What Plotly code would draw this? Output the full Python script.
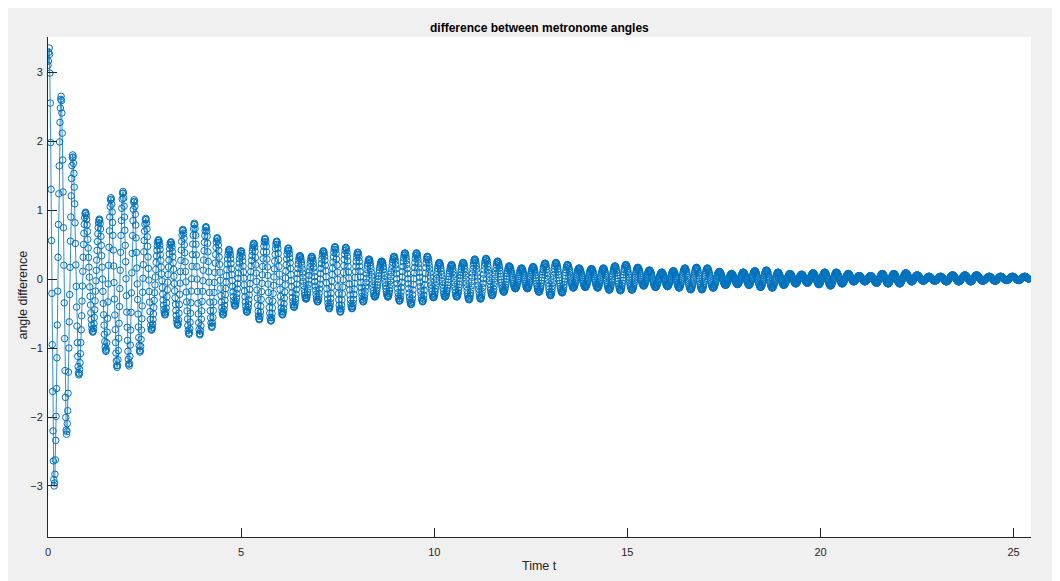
import numpy as np
import plotly.graph_objects as go

# Turning points (peaks / troughs) of the angle difference
ext_t = [0.00, 0.03, 0.16, 0.34, 0.48, 0.64, 0.80, 0.97, 1.16, 1.33, 1.50, 1.63, 1.79, 1.94, 2.10,
         2.23, 2.38, 2.53, 2.68, 2.86, 3.03, 3.18, 3.36, 3.49, 3.65, 3.79, 3.93, 4.09, 4.24, 4.38,
         4.53, 4.69, 4.84, 5.00, 5.15, 5.33, 5.47, 5.62, 5.77, 5.92, 6.07, 6.22, 6.37, 6.52, 6.68,
         6.83, 6.98, 7.13, 7.28, 7.43, 7.57, 7.71, 7.87, 8.02, 8.16, 8.31, 8.46, 8.64, 8.80, 8.96,
         9.10, 9.24, 9.40, 9.54, 9.70, 9.82, 9.98, 10.13, 10.28, 10.45, 10.58, 10.75, 10.90, 11.05,
         11.20, 11.34, 11.50, 11.64, 11.80, 11.94, 12.10, 12.26, 12.41, 12.56, 12.71, 12.87, 13.01,
         13.15, 13.31, 13.45, 13.60, 13.75, 13.91, 14.07, 14.23, 14.38, 14.53, 14.68, 14.82, 14.96,
         15.12, 15.27, 15.42, 15.57, 15.73, 15.89, 16.04, 16.19, 16.34, 16.49, 16.64, 16.79, 16.93,
         17.07, 17.22, 17.38, 17.54, 17.70, 17.85, 18.00, 18.15, 18.30, 18.45, 18.60, 18.75, 18.90,
         19.05, 19.21, 19.36, 19.51, 19.66, 19.81, 19.96, 20.11, 20.26, 20.41, 20.56, 20.72, 20.86,
         21.00, 21.15, 21.30, 21.45, 21.60, 21.75, 21.90, 22.05, 22.21, 22.36, 22.50, 22.66, 22.81,
         22.96, 23.11, 23.26, 23.42, 23.58, 23.74, 23.89, 24.04, 24.20, 24.37, 24.52, 24.66, 24.82,
         24.97, 25.13, 25.29, 25.40]
ext_v = [3.10, 3.35, -3.00, 2.65, -2.25, 1.80, -1.39, 0.97, -0.77, 0.87, -1.05, 1.18, -1.28, 1.27, -1.26,
         1.15, -1.06, 0.88, -0.74, 0.57, -0.52, 0.54, -0.67, 0.72, -0.80, 0.81, -0.81, 0.76, -0.70, 0.60,
         -0.52, 0.43, -0.39, 0.41, -0.48, 0.52, -0.59, 0.59, -0.61, 0.55, -0.52, 0.45, -0.41, 0.34, -0.29,
         0.33, -0.33, 0.41, -0.43, 0.47, -0.48, 0.46, -0.43, 0.39, -0.33, 0.29, -0.26, 0.26, -0.26, 0.33,
         -0.32, 0.38, -0.37, 0.38, -0.33, 0.33, -0.27, 0.24, -0.26, 0.21, -0.26, 0.24, -0.30, 0.29,
         -0.29, 0.30, -0.24, 0.26, -0.19, 0.19, -0.14, 0.16, -0.14, 0.18, -0.19, 0.23, -0.24,
         0.24, -0.20, 0.21, -0.13, 0.16, -0.12, 0.15, -0.13, 0.16, -0.16, 0.19, -0.17, 0.21,
         -0.16, 0.17, -0.10, 0.13, -0.12, 0.10, -0.11, 0.12, -0.13, 0.16, -0.155, 0.17, -0.155,
         0.16, -0.13, 0.11, -0.09, 0.08, -0.08, 0.10, -0.09, 0.12, -0.12, 0.13, -0.13, 0.10,
         -0.09, 0.08, -0.07, 0.07, -0.06, 0.09, -0.08, 0.10, -0.10, 0.10, -0.07, 0.08, -0.04,
         0.05, -0.04, 0.05, -0.06, 0.08, -0.07, 0.08, -0.07, 0.09, -0.04, 0.06, -0.03, 0.04,
         -0.03, 0.04, -0.04, 0.06, -0.04, 0.06, -0.04, 0.06, -0.03, 0.04, -0.03, 0.04, -0.02,
         0.04, -0.02, 0.04, 0.00]

x_ticks = [0, 5, 10, 15, 20, 25]
y_ticks = [-3, -2, -1, 0, 1, 2, 3]
sample_step = 0.01  # spacing of the plotted samples (about 30 per swing in the picture)

# samples between turning points follow the swing of the pendulum
t = np.arange(0.0, ext_t[-1] + 1e-9, sample_step)
et = np.array(ext_t)
ev = np.array(ext_v)
idx = np.clip(np.searchsorted(et, t, side="right") - 1, 0, len(et) - 2)
frac = (t - et[idx]) / (et[idx + 1] - et[idx])
d = ev[idx] + (ev[idx + 1] - ev[idx]) * (1 - np.cos(np.pi * frac)) / 2

blue = "#0072BD"
axc = "#262626"
font = "Liberation Sans, Arial, Helvetica, sans-serif"

fig = go.Figure()
fig.add_trace(go.Scatter(
    x=t, y=d, mode="lines+markers",
    line=dict(color=blue, width=0.8),
    marker=dict(symbol="circle-open", size=6.5, color=blue, line=dict(width=1, color=blue)),
    showlegend=False, hoverinfo="skip",
))

fig.update_layout(
    width=1060, height=581,
    margin=dict(l=40, r=37, t=29, b=52),
    paper_bgcolor="#f0f0f0", plot_bgcolor="white",
    font=dict(family=font, size=10, color=axc),
    xaxis=dict(range=[0, 25.45], tickvals=x_ticks, ticks="inside", ticklen=9, tickcolor=axc,
               showline=True, linecolor=axc, linewidth=1, showgrid=False, zeroline=False,
               mirror=False, tickfont=dict(size=11, color=axc), ticklabelstandoff=5),
    yaxis=dict(range=[-3.74, 3.51], tickvals=y_ticks, ticks="inside", ticklen=9, tickcolor=axc,
               showline=True, linecolor=axc, linewidth=1, showgrid=False, zeroline=False,
               mirror=False, tickfont=dict(size=11, color=axc), ticklabelstandoff=2),
    annotations=[
        dict(text="<b>difference between metronome angles</b>", xref="paper", yref="paper",
             x=0.5, y=1.018, xanchor="center", yanchor="middle", showarrow=False,
             font=dict(size=12, color="#000000")),
        dict(text="Time t", xref="paper", yref="paper", x=0.5, y=-0.058,
             xanchor="center", yanchor="middle", showarrow=False,
             font=dict(size=12.5, color=axc)),
        dict(text="angle difference", xref="paper", yref="paper", x=-0.0264, y=0.483,
             xanchor="center", yanchor="middle", textangle=-90, showarrow=False,
             font=dict(size=12.5, color=axc)),
    ],
)

fig.write_html("out.html")
